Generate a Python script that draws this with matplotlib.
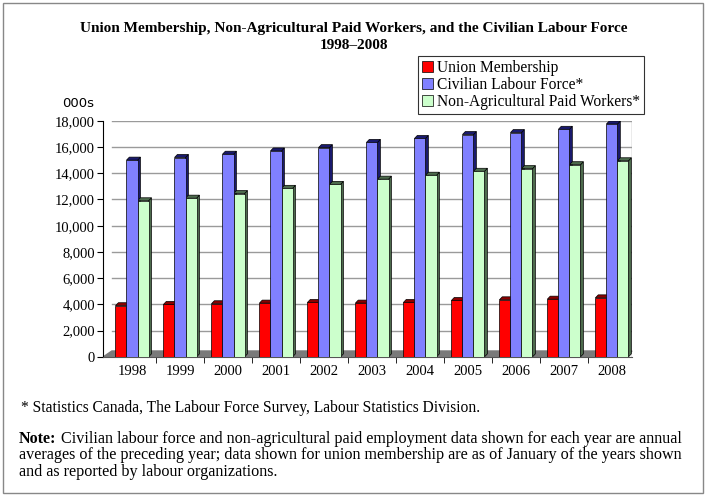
from matplotlib import pyplot as plt
from matplotlib.patches import Polygon, Rectangle
import numpy as np

# values in thousands
years = ["1998", "1999", "2000", "2001", "2002", "2003", "2004", "2005", "2006", "2007", "2008"]
union = [3900, 4000, 4050, 4100, 4150, 4100, 4150, 4300, 4350, 4400, 4500]
labour = [15000, 15200, 15450, 15700, 15950, 16350, 16650, 16950, 17100, 17350, 17750]
nonag = [11900, 12100, 12450, 12850, 13150, 13550, 13850, 14150, 14350, 14650, 14950]

names = ["Union Membership", "Civilian Labour Force*", "Non-Agricultural Paid Workers*"]
faces = ["#ff0000", "#8080ff", "#ccffcc"]
sides = ["#8b0000", "#1a1a6e", "#4d6b4d"]

plt.rcParams['font.family'] = ['Liberation Serif', 'DejaVu Serif']

fig = plt.figure(figsize=(7.07, 4.95), dpi=100)
ax = fig.add_axes([0.146, 0.279, 0.748, 0.477])

x = np.arange(len(years))
w = 0.23
dx = 0.06      # fake depth
dy = 230

ax.set_xlim(-0.6, 10.42)
ax.set_ylim(0, 18000)

# back wall grid
for gy in range(2000, 18001, 2000):
    ax.plot([-0.42, 10.42], [gy, gy], color="#9a9a9a", lw=1.0, zorder=0)
ax.plot([10.42, 10.42], [0, 18000], color="#9a9a9a", lw=1.0, zorder=0)
# floor
ax.add_patch(Polygon([[-0.6, 0], [10.25, 0], [10.42, 450], [-0.42, 450]],
                     closed=True, facecolor="#7a7a7a", edgecolor="#7a7a7a", zorder=1, clip_on=False))

series = [union, labour, nonag]
for k, vals in enumerate(series):
    pos = x + (k - 1) * w
    ax.bar(pos, vals, w, color=faces[k], edgecolor="black", linewidth=0.5, zorder=3,
           label=names[k])
    for p, v in zip(pos, vals):
        r = p + w / 2
        l = p - w / 2
        ax.add_patch(Polygon([[r, 0], [r + dx, dy], [r + dx, v + dy], [r, v]], closed=True,
                             facecolor=sides[k], edgecolor="black", lw=0.5, zorder=2.5))
        ax.add_patch(Polygon([[l, v], [l + dx, v + dy], [r + dx, v + dy], [r, v]], closed=True,
                             facecolor=sides[k], edgecolor="black", lw=0.5, zorder=2.5))

ax.set_yticks(range(0, 18001, 2000))
ax.set_yticklabels([f"{v:,}" for v in range(0, 18001, 2000)], fontsize=10.5)
ax.set_xticks(x)
ax.set_xticklabels(years, fontsize=10.5)
ax.set_xticks(x[:-1] + 0.5, minor=True)
ax.tick_params(axis="x", which="major", length=0, pad=6)
ax.tick_params(axis="x", which="minor", length=4, direction="out")
ax.tick_params(axis="y", length=4, direction="out", pad=2)
for s in ["top", "right"]:
    ax.spines[s].set_visible(False)
ax.spines["bottom"].set_color("#555555")

ax.text(-0.018, 1.045, "000s", transform=ax.transAxes, fontsize=9.5, family="DejaVu Sans",
        ha="right", va="bottom")

leg = fig.legend(loc="upper left", bbox_to_anchor=(0.591, 0.886), fontsize=11.2,
                 frameon=True, fancybox=False, edgecolor="black", handlelength=0.7,
                 handleheight=0.7, handletextpad=0.3, labelspacing=0.05, borderpad=0.25,
                 borderaxespad=0)
leg.get_frame().set_linewidth(0.8)

fig.text(0.5, 0.935, "Union Membership, Non-Agricultural Paid Workers, and the Civilian Labour Force",
         ha="center", fontsize=11, weight="bold")
fig.text(0.5, 0.902, "1998\u20132008", ha="center", fontsize=11, weight="bold")

fig.text(0.03, 0.168, "* Statistics Canada, The Labour Force Survey, Labour Statistics Division.",
         fontsize=11.2)
note = fig.text(0.027, 0.105, "Note:", fontsize=11.6, weight="bold")
ax.annotate("Civilian labour force and non-agricultural paid employment data shown for each year are annual",
            xy=(1, 0), xycoords=note, xytext=(3, 0), textcoords="offset points",
            fontsize=11.6, va="bottom", ha="left")
fig.text(0.027, 0.072,
         "averages of the preceding year; data shown for union membership are as of January of the years shown",
         fontsize=11.6)
fig.text(0.027, 0.039, "and as reported by labour organizations.", fontsize=11.6)

fig.patches.append(Rectangle((0.004, 0.004), 0.99, 0.99, transform=fig.transFigure,
                             fill=False, edgecolor="#888888", lw=1))

fig.savefig("out.png", dpi=100)
